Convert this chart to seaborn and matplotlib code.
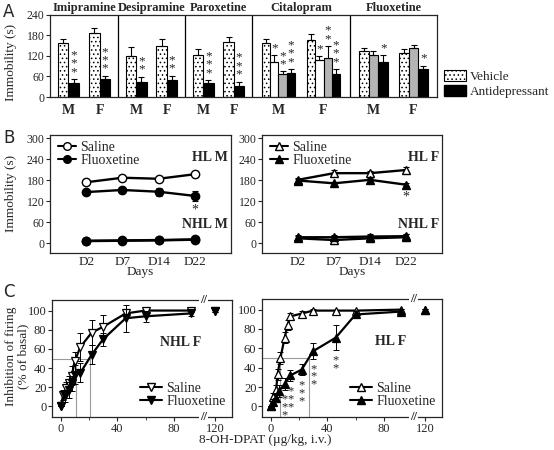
import numpy as np
import matplotlib
matplotlib.use("Agg")
import matplotlib.pyplot as plt
import seaborn as sns
from matplotlib.patches import Patch
from matplotlib.lines import Line2D

# ---------- A: forced swim, acute antidepressants ----------
drugs = ["Imipramine", "Desipramine", "Paroxetine", "Citalopram", "Fluoxetine"]
bar_kinds = [["vehicle", "ad"], ["vehicle", "ad"], ["vehicle", "ad"],
             ["vehicle", "white", "grey", "ad"], ["vehicle", "grey", "ad"]]
male_mean = [[157, 40], [120, 45], [122, 40], [158, 102, 67, 70], [134, 123, 102]]
male_sem = [[12, 12], [25, 14], [18, 10], [12, 20, 8, 12], [10, 12, 20]]
female_mean = [[186, 52], [150, 50], [160, 32], [167, 108, 114, 67], [129, 143, 82]]
female_sem = [[17, 10], [20, 12], [15, 13], [18, 12, 35, 15], [12, 8, 10]]
male_stars = [[0, 3], [0, 2], [0, 3], [0, 1, 2, 3], [0, 0, 1]]
female_stars = [[0, 3], [0, 2], [0, 3], [0, 1, 2, 3], [0, 0, 1]]

# ---------- B: chronic fluoxetine, immobility over days ----------
days = ["D2", "D7", "D14", "D22"]
hl_m_saline = [174, 187, 184, 197]
hl_m_saline_sem = [8, 7, 8, 9]
hl_m_fluox = [146, 152, 147, 135]
hl_m_fluox_sem = [6, 9, 12, 15]
nhl_m_saline = [6, 7, 8, 10]
nhl_m_fluox = [7, 8, 9, 11]
nhl_m_sem = [4, 4, 4, 4]
hl_f_saline = [181, 200, 200, 209]
hl_f_saline_sem = [5, 8, 6, 8]
hl_f_fluox = [179, 171, 181, 167]
hl_f_fluox_sem = [5, 5, 5, 4]
nhl_f_saline = [14, 9, 14, 17]
nhl_f_saline_sem = [6, 12, 10, 10]
nhl_f_fluox = [17, 17, 19, 20]
nhl_f_fluox_sem = [5, 6, 6, 6]

# ---------- C: 8-OH-DPAT dose response ----------
nhl_sal_dose = [0, 2, 4, 6, 8, 10, 14, 22, 30, 46, 60, 92, 120]
nhl_sal_inh = [0, 12, 19, 24, 32, 47, 62, 77, 83, 97, 100, 100, 100]
nhl_sal_sem = [0, 5, 6, 8, 10, 10, 15, 13, 12, 5, 3, 2, 1]
nhl_flx_dose = [0, 3, 6, 8, 10, 14, 22, 30, 46, 60, 92, 120]
nhl_flx_inh = [0, 11, 17, 24, 33, 35, 54, 70, 92, 94, 97, 100]
nhl_flx_sem = [0, 6, 8, 8, 10, 10, 10, 7, 14, 6, 3, 1]
nhl_ec50 = [11, 21]

hl_sal_dose = [0, 2, 4, 5, 7, 10, 12, 14, 22, 30, 46, 60, 92, 120]
hl_sal_inh = [0, 10, 17, 33, 50, 71, 84, 93, 96, 99, 99, 99, 100, 100]
hl_sal_sem = [0, 4, 5, 6, 6, 6, 5, 4, 3, 2, 1, 1, 1, 1]
hl_flx_dose = [0, 2, 4, 6, 10, 14, 22, 30, 46, 60, 92, 120]
hl_flx_inh = [0, 4, 9, 16, 23, 32, 38, 57, 71, 95, 98, 100]
hl_flx_sem = [0, 4, 5, 6, 6, 6, 6, 8, 13, 4, 3, 1]
hl_flx_stars = [0, 0, 0, 0, 3, 3, 3, 3, 2, 0, 0, 0]
hl_ec50 = [6.5, 27]

sns.set_style("ticks")
plt.rcParams["font.family"] = ["Liberation Serif", "DejaVu Sans"]
plt.rcParams["hatch.linewidth"] = 0.6
plt.rcParams["axes.linewidth"] = 0.9

W, H = 554, 450
fig = plt.figure(figsize=(W / 100, H / 100), dpi=100)


def box(x0, y0, x1, y1):
    return fig.add_axes([x0 / W, 1 - y1 / H, (x1 - x0) / W, (y1 - y0) / H])


def panel_letter(y, s):
    fig.text(3 / W, 1 - y / H, s, family="DejaVu Sans", fontsize=12, va="center")


# ================= A =================
axA = box(50, 15, 437, 97)
group_w = [68, 67, 67, 98, 87]
edges = np.concatenate([[0], np.cumsum(group_w)])
styles = {"vehicle": dict(color="white", hatch="...."),
          "white": dict(color="white"),
          "grey": dict(color="#b4b4b4"),
          "ad": dict(color="black")}
xt, xl = [], []
for i, drug in enumerate(drugs):
    left, gw = edges[i], group_w[i]
    n = len(bar_kinds[i])
    bw = min(10.5, gw * 0.34 / n)
    cM, cF = left + 0.27 * gw, left + 0.73 * gw
    xt += [cM, cF]
    xl += ["M", "F"]
    for k, kind in enumerate(bar_kinds[i]):
        off = (k - (n - 1) / 2) * bw
        pos = [cM + off, cF + off]
        vals = [male_mean[i][k], female_mean[i][k]]
        sems = [male_sem[i][k], female_sem[i][k]]
        stars = [male_stars[i][k], female_stars[i][k]]
        sns.barplot(x=pos, y=vals, native_scale=True, orient="x",
                    width=bw / (pos[1] - pos[0]), edgecolor="black",
                    linewidth=0.8, saturation=1, errorbar=None, ax=axA,
                    **styles[kind])
        axA.errorbar(pos, vals, yerr=[[0, 0], sems], fmt="none", ecolor="black",
                     elinewidth=0.8, capsize=2, capthick=0.8)
        for p, v, s, st in zip(pos, vals, sems, stars):
            if st:
                axA.text(p, v + s + 3, "\n".join(["*"] * st), ha="center",
                         va="bottom", fontsize=9.5, linespacing=0.6)
    axA.text(left + gw / 2, 1.01, drug, transform=axA.get_xaxis_transform(),
             ha="center", va="bottom", fontsize=9, fontweight="bold")
    if i > 0:
        axA.axvline(left, color="black", lw=0.9)
axA.set_xlim(0, edges[-1])
axA.set_ylim(0, 240)
axA.set_yticks([0, 60, 120, 180, 240])
axA.set_xticks(xt)
axA.set_xticklabels(xl, fontweight="bold", fontsize=10)
axA.tick_params(axis="x", length=0, pad=5)
axA.tick_params(axis="y", labelsize=8.5, length=3, pad=1)
axA.set_xlabel("")
axA.set_ylabel("")
for sp in axA.spines.values():
    sp.set_visible(True)
fig.text(11 / W, 1 - 62 / H, "Immobility (s)", rotation=90, ha="center",
         va="center", fontsize=9.5)
fig.legend(handles=[Patch(facecolor="white", edgecolor="black", hatch="....", lw=0.8),
                    Patch(facecolor="black", edgecolor="black")],
           labels=["Vehicle", "Antidepressant"], loc="upper left",
           bbox_to_anchor=(444 / W, 1 - 70 / H), frameon=False, fontsize=9.5,
           handlelength=1.7, handleheight=0.9, handletextpad=0.25,
           labelspacing=0.15, borderaxespad=0, borderpad=0)
panel_letter(12, "A")

# ================= B =================
def day_panel(ax, mk, hl_s, hl_s_e, hl_f, hl_f_e, nhl_s, nhl_s_e, nhl_f, nhl_f_e,
              tag_hl, tag_nhl):
    for vals, errs, face in [(nhl_s, nhl_s_e, "white"), (nhl_f, nhl_f_e, "black"),
                             (hl_s, hl_s_e, "white"), (hl_f, hl_f_e, "black")]:
        ax.errorbar(days, vals, yerr=errs, fmt="none", ecolor="black",
                    elinewidth=0.8, capsize=2, capthick=0.8)
        sns.lineplot(x=days, y=vals, ax=ax, color="black", marker=mk,
                     markersize=6, markerfacecolor=face, markeredgecolor="black",
                     markeredgewidth=1.0, linewidth=1.7, sort=False, errorbar=None)
    ax.set_xlim(-1, 4)
    ax.set_ylim(-28, 309)
    ax.set_yticks([0, 60, 120, 180, 240, 300])
    ax.tick_params(axis="x", length=0, labelsize=9.5, pad=2)
    ax.tick_params(axis="y", labelsize=8.5, length=3, pad=1)
    ax.set_xlabel("Days", fontsize=9.5, labelpad=-1)
    ax.set_ylabel("")
    ax.text(0.985, 245, tag_hl, transform=ax.get_yaxis_transform(), ha="right",
            va="center", fontsize=10, fontweight="bold")
    ax.text(0.985, 52, tag_nhl, transform=ax.get_yaxis_transform(), ha="right",
            va="center", fontsize=10, fontweight="bold")
    ax.text(3, min(hl_f[-1], hl_s[-1]) - max(hl_f_e[-1], 10) - 8, "*",
            ha="center", va="top", fontsize=10)
    for sp in ax.spines.values():
        sp.set_visible(True)
    ax.legend(handles=[Line2D([], [], color="black", marker=mk, mfc="white", mec="black", lw=1.5, ms=5.5),
                       Line2D([], [], color="black", marker=mk, mfc="black", mec="black", lw=1.5, ms=5.5)],
              labels=["Saline", "Fluoxetine"], loc="upper left",
              bbox_to_anchor=(0.0, 1.02), frameon=False, fontsize=10,
              handlelength=1.3, handletextpad=0.3, labelspacing=0.0,
              borderaxespad=0.2)


bL = box(50, 135, 231, 253)
day_panel(bL, "o", hl_m_saline, hl_m_saline_sem, hl_m_fluox, hl_m_fluox_sem,
          nhl_m_saline, nhl_m_sem, nhl_m_fluox, nhl_m_sem, "HL M", "NHL M")
bR = box(262, 135, 442, 253)
day_panel(bR, "^", hl_f_saline, hl_f_saline_sem, hl_f_fluox, hl_f_fluox_sem,
          nhl_f_saline, nhl_f_saline_sem, nhl_f_fluox, nhl_f_fluox_sem, "HL F", "NHL F")
fig.text(11 / W, 1 - 193 / H, "Immobility (s)", rotation=90, ha="center",
         va="center", fontsize=9.5)
panel_letter(138, "B")


# ================= C =================
def brk(d):
    d = np.asarray(d, float)
    return np.where(d <= 100, d, 100 + (d - 100) * 0.45)


def dose_panel(ax, mk, s_d, s_v, s_e, f_d, f_v, f_e, ec50, tag, stars=None):
    ax.set_xlim(-6, 121)
    ax.set_ylim(-11, 111)
    ax.plot([-6, max(ec50)], [50, 50], color="#9a9a9a", lw=0.8, zorder=0)
    for e in ec50:
        ax.plot([e, e], [-11, 50], color="#9a9a9a", lw=0.8, zorder=0)
    for d, v, e, face in [(s_d, s_v, s_e, "white"), (f_d, f_v, f_e, "black")]:
        d, v, e = np.asarray(d, float), np.asarray(v, float), np.asarray(e, float)
        main = d <= 100
        ax.errorbar(brk(d), v, yerr=e, fmt="none", ecolor="black",
                    elinewidth=0.7, capsize=2, capthick=0.7)
        sns.lineplot(x=brk(d[main]), y=v[main], ax=ax, color="black", marker=mk,
                     markersize=6, markerfacecolor=face, markeredgecolor="black",
                     markeredgewidth=0.9, linewidth=1.6, sort=False, errorbar=None)
        ax.plot(brk(d[~main]), v[~main], marker=mk, color="black", ms=6,
                mfc=face, mec="black", mew=0.9, ls="none")
    if stars is not None:
        for d, v, e, st in zip(f_d, f_v, f_e, stars):
            if st:
                ax.text(d, v - e - 4, "\n".join(["*"] * st), ha="center",
                        va="top", fontsize=9, linespacing=0.55)
    ax.set_xticks([0, 40, 80, float(brk(120))])
    ax.set_xticklabels(["0", "40", "80", "120"])
    ax.set_xticks([20, 60], minor=True)
    ax.set_yticks([0, 20, 40, 60, 80, 100])
    ax.tick_params(axis="both", labelsize=9, length=3, pad=1)
    ax.tick_params(axis="x", which="minor", length=2)
    for sp in ax.spines.values():
        sp.set_visible(True)
    for yy in (0, 1):
        ax.text(101, yy, "//", transform=ax.get_xaxis_transform(), ha="center",
                va="center", fontsize=9, fontweight="bold",
                bbox=dict(facecolor="white", edgecolor="none", pad=0.5))
    ax.text(85, 67, tag, ha="center", va="center", fontsize=10, fontweight="bold")
    ax.legend(handles=[Line2D([], [], color="black", marker=mk, mfc="white", mec="black", lw=1.5, ms=6),
                       Line2D([], [], color="black", marker=mk, mfc="black", mec="black", lw=1.5, ms=6)],
              labels=["Saline", "Fluoxetine"], loc="lower left",
              bbox_to_anchor=(0.42, -0.03), frameon=False, fontsize=10,
              handlelength=1.6, handletextpad=0.3, labelspacing=0.0)


cL = box(52, 300, 232, 417)
dose_panel(cL, "v", nhl_sal_dose, nhl_sal_inh, nhl_sal_sem,
           nhl_flx_dose, nhl_flx_inh, nhl_flx_sem, nhl_ec50, "NHL F")
cR = box(262, 299, 442, 417)
dose_panel(cR, "^", hl_sal_dose, hl_sal_inh, hl_sal_sem,
           hl_flx_dose, hl_flx_inh, hl_flx_sem, hl_ec50, "HL F", hl_flx_stars)
fig.text(17 / W, 1 - 356 / H, "Inhibition of firing\n(% of basal)", rotation=90,
         ha="center", va="center", fontsize=9.5, linespacing=1.0)
fig.text(265 / W, 1 - 440 / H, "8-OH-DPAT (\u00b5g/kg, i.v.)", ha="center",
         va="center", fontsize=9.5)
panel_letter(292, "C")

fig.savefig("out.png", dpi=100)
